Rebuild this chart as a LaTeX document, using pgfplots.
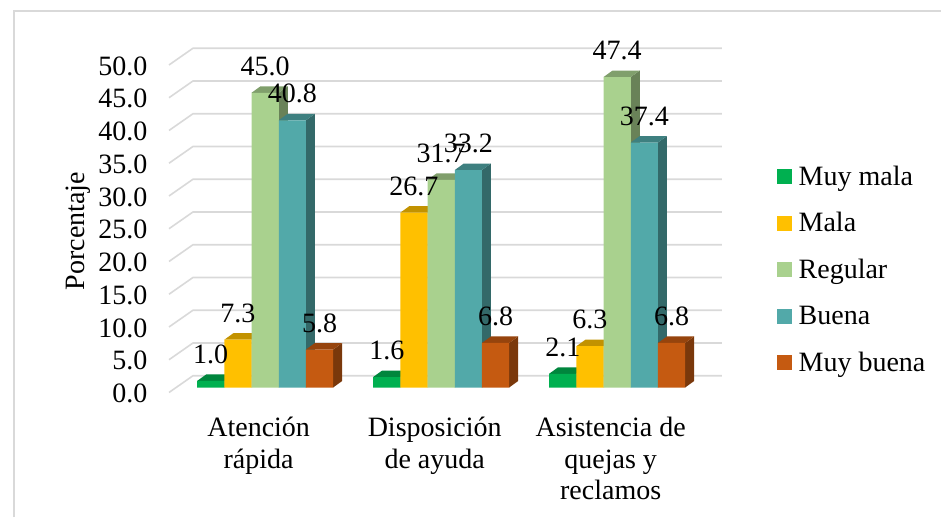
\documentclass[border=0pt]{standalone}
\usepackage{pgfplots}
\usepackage{pgfplotstable}
\usepackage{fontspec}
\setmainfont{Liberation Serif}
\pgfplotsset{compat=1.18}

\definecolor{cMuyMala}{HTML}{00B050}
\definecolor{cMala}{HTML}{FFC000}
\definecolor{cRegular}{HTML}{A9D18E}
\definecolor{cBuena}{HTML}{52A9A9}
\definecolor{cMuyBuena}{HTML}{C55A11}
\definecolor{rejilla}{HTML}{D9D9D9}

\pgfplotstableread{
idx MuyMala Mala Regular Buena MuyBuena
0   1.0     7.3  45.0    40.8  5.8
1   1.6     26.7 31.7    33.2  6.8
2   2.1     6.3  47.4    37.4  6.8
}\valores

% Bar width and depth offsets: one category is 176 units of picture width,
% one percent is 6.55 units of picture height.
\newcommand{\anchoBar}{27.2}
\newcommand{\profX}{0.05114}
\newcommand{\profY}{0.992}

% Side and top faces followed by the front faces of one series.
% #1 table column, #2 colour, #3 horizontal shift of the bar
\newcommand{\serie}[3]{%
  \pgfplotsforeachungrouped \fila in {0,1,2}{%
    \pgfplotstablegetelem{\fila}{#1}\of\valores
    \pgfmathsetmacro{\yF}{\pgfplotsretval}%
    \pgfmathsetmacro{\yB}{\yF+\profY}%
    \pgfmathsetmacro{\xL}{\fila+(#3-\anchoBar/2)/176}%
    \pgfmathsetmacro{\xR}{\fila+(#3+\anchoBar/2)/176}%
    \pgfmathsetmacro{\xLb}{\xL+\profX}%
    \pgfmathsetmacro{\xRb}{\xR+\profX}%
    \addplot[forget plot, draw=none, fill=#2!62!black]
      coordinates {(\xR,0) (\xRb,\profY) (\xRb,\yB) (\xR,\yF)} --cycle;
    \addplot[forget plot, draw=none, fill=#2!76!black]
      coordinates {(\xL,\yF) (\xLb,\yB) (\xRb,\yB) (\xR,\yF)} --cycle;
  }%
  \addplot[forget plot, ybar, bar width=\anchoBar pt, bar shift=#3pt,
    draw=none, fill=#2] table[x=idx, y=#1] {\valores};
}

% Value labels of one series, drawn after all the bars.
\newcommand{\etiquetas}[2]{%
  \addplot[forget plot, ybar, bar width=\anchoBar pt, bar shift=#2pt,
    draw=none, fill=none, nodes near coords,
    nodes near coords align={anchor=center},
    every node near coord/.append style={xshift=#2pt, yshift=26.5pt, inner sep=0pt, text=black}]
    table[x=idx, y=#1] {\valores};
}

\begin{document}
\begin{tikzpicture}[x=1pt, y=1pt]
  \path[use as bounding box] (-152,-122) rectangle (789,395);
  % Chart area border: top and left edges only
  \draw[rejilla, line width=1.6pt] (-138,-122) -- (-138,384) -- (789,384);

  \begin{axis}[
    at={(0pt,0pt)}, anchor=south west,
    scale only axis, width=789pt, height=395pt,
    xmin=-0.6429, xmax=3.8401, ymin=-1.145, ymax=59.16,
    clip=false,
    axis line style={draw=none},
    tick style={draw=none},
    font=\fontsize{28}{31.5}\selectfont,
    /pgf/number format/.cd, fixed, fixed zerofill, precision=1, assume math mode=true,
    /pgfplots/.cd,
    ytick={0,5,...,50},
    yticklabel style={yshift=-6pt, xshift=-4.5pt, inner sep=0pt, anchor=east},
    xtick={0,1,2},
    xticklabels={Atención\\rápida, Disposición\\de ayuda, Asistencia de\\quejas y\\reclamos},
    xticklabel style={align=center, xshift=-6.5pt, yshift=-22pt, anchor=north, inner sep=0pt},
    ylabel={Porcentaje},
    every axis y label/.style={at={(axis description cs:-0.093,0.415)}, rotate=90, anchor=center},
    legend image code/.code={\fill[#1] (0pt,2pt) rectangle (14pt,16pt);},
    legend style={at={(axis cs:2.9096,33.93)}, anchor=north west, draw=none, fill=none,
      inner sep=0pt, outer sep=0pt, row sep=19.5pt,
      /tikz/every odd column/.append style={column sep=7pt},
      nodes={inner sep=0pt, text height=20pt, text depth=7pt, anchor=base west}},
    legend cell align=left,
  ]
    % Receding grid lines on the side and back walls
    \pgfplotsinvokeforeach{0,5,...,50}{
      \pgfmathsetmacro{\yFrente}{#1-0.76}
      \pgfmathsetmacro{\yFondo}{#1+1.80}
      \addplot[forget plot, rejilla, line width=1.6pt]
        coordinates {(-0.5463,\yFrente) (-0.4099,\yFondo) (2.5957,\yFondo)};
    }

    \serie{MuyMala}{cMuyMala}{-54.4}
    \serie{Mala}{cMala}{-27.2}
    \serie{Regular}{cRegular}{0}
    \serie{Buena}{cBuena}{27.2}
    \serie{MuyBuena}{cMuyBuena}{54.4}

    \etiquetas{MuyMala}{-54.4}
    \etiquetas{Mala}{-27.2}
    \etiquetas{Regular}{0}
    \etiquetas{Buena}{27.2}
    \etiquetas{MuyBuena}{54.4}

    \addlegendimage{cMuyMala}  \addlegendentry{Muy mala}
    \addlegendimage{cMala}     \addlegendentry{Mala}
    \addlegendimage{cRegular}  \addlegendentry{Regular}
    \addlegendimage{cBuena}    \addlegendentry{Buena}
    \addlegendimage{cMuyBuena} \addlegendentry{Muy buena}
  \end{axis}
\end{tikzpicture}
\end{document}
